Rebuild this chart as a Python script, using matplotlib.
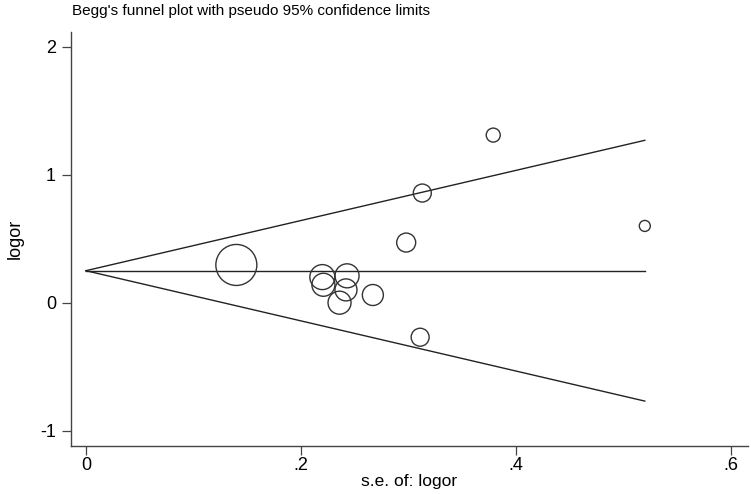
import numpy as np
import matplotlib
matplotlib.use("Agg")
import matplotlib.pyplot as plt

plt.rcParams['font.family'] = ['Liberation Sans', 'DejaVu Sans']
plt.rcParams['axes.unicode_minus'] = False

# study estimates
se = [0.140, 0.220, 0.243, 0.221, 0.242, 0.236, 0.267, 0.298, 0.311, 0.313, 0.379, 0.520]
logor = [0.295, 0.20, 0.21, 0.14, 0.10, 0.00, 0.06, 0.47, -0.27, 0.857, 1.31, 0.60]
# circle diameters in pixels (weights)
diam = [41, 25, 24, 23, 22, 23, 21, 19, 18, 18, 14, 11]
pooled = 0.25

xticks = [0, 0.2, 0.4, 0.6]
xticklabels = ['0', '.2', '.4', '.6']
yticks = [-1, 0, 1, 2]

fig = plt.figure(figsize=(7.51, 4.94), dpi=100)
ax = fig.add_axes([0.094, 0.098, 0.902, 0.837])

# pseudo 95% confidence limits
se_line = np.array([0, max(se)])
ax.plot(se_line, [pooled, pooled], color='#222222', lw=1.0)
ax.plot(se_line, pooled + 1.96 * se_line, color='#222222', lw=1.0)
ax.plot(se_line, pooled - 1.96 * se_line, color='#222222', lw=1.0)

sizes = [(d * 0.72) ** 2 for d in diam]
ax.scatter(se, logor, s=sizes, facecolors='none', edgecolors='#333333', linewidths=1.0, zorder=3)

ax.set_xlim(-0.0142, 0.616)
ax.set_ylim(-1.117, 2.115)
ax.set_xticks(xticks)
ax.set_xticklabels(xticklabels)
ax.set_yticks(yticks)

for s in ['top', 'right']:
    ax.spines[s].set_visible(False)
for s in ['left', 'bottom']:
    ax.spines[s].set_color('#444444')
    ax.spines[s].set_linewidth(1.0)

ax.tick_params(axis='both', direction='out', length=6.5, width=0.9, color='#444444',
               labelsize=13)
ax.tick_params(axis='y', pad=4)
ax.tick_params(axis='x', pad=1.5)
ax.set_xlabel('s.e. of: logor', fontsize=12.5, labelpad=0)
ax.set_ylabel('logor', fontsize=13, labelpad=12)

fig.text(0.096, 0.977, "Begg's funnel plot with pseudo 95% confidence limits",
         fontsize=11, ha='left', va='center')

fig.savefig('out.png', dpi=100)
